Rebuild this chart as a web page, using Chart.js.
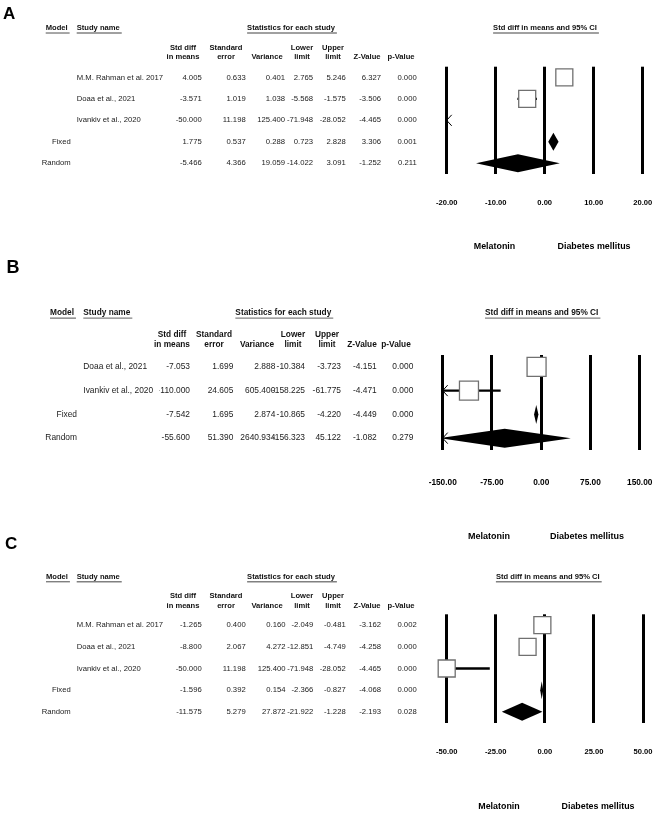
<!DOCTYPE html>
<html lang="en">
<head>
<meta charset="UTF-8">
<title>Forest plots</title>
<script src="https://cdn.jsdelivr.net/npm/chart.js"></script>
<style>
  body { margin: 0; background: #fff; }
  #page { position: relative; width: 660px; height: 813px; overflow: hidden; }
  #page canvas { position: absolute; left: 0; }
</style>
</head>
<body>
<div id="page">
  <canvas id="chartA" width="660" height="262" style="top:0px"></canvas>
  <canvas id="chartB" width="660" height="290" style="top:256px"></canvas>
  <canvas id="chartC" width="660" height="281" style="top:532px"></canvas>
</div>
<script>
// ---- data ----
const colHeaders = ['Std diff\nin means', 'Standard\nerror', 'Variance', 'Lower\nlimit', 'Upper\nlimit', 'Z-Value', 'p-Value'];
const summaryModels = ['Fixed', 'Random'];
const sideLabels = ['Melatonin', 'Diabetes mellitus'];

// panel A
const studiesA = ['M.M. Rahman et al. 2017', 'Doaa et al., 2021', 'Ivankiv et al., 2020'];
const stdDiffA = [4.005, -3.571, -50.000, 1.775, -5.466];
const stdErrA = [0.633, 1.019, 11.198, 0.537, 4.366];
const varianceA = [0.401, 1.038, 125.400, 0.288, 19.059];
const lowerA = [2.765, -5.568, -71.948, 0.723, -14.022];
const upperA = [5.246, -1.575, -28.052, 2.828, 3.091];
const zValueA = [6.327, -3.506, -4.465, 3.306, -1.252];
const pValueA = [0.000, 0.000, 0.000, 0.001, 0.211];
const axisA = [-20, 20, 10];

// panel B
const studiesB = ['Doaa et al., 2021', 'Ivankiv et al., 2020'];
const stdDiffB = [-7.053, -110.000, -7.542, -55.600];
const stdErrB = [1.699, 24.605, 1.695, 51.390];
const varianceB = [2.888, 605.400, 2.874, 2640.934];
const lowerB = [-10.384, -158.225, -10.865, -156.323];
const upperB = [-3.723, -61.775, -4.220, 45.122];
const zValueB = [-4.151, -4.471, -4.449, -1.082];
const pValueB = [0.000, 0.000, 0.000, 0.279];
const axisB = [-150, 150, 75];

// panel C
const studiesC = ['M.M. Rahman et al. 2017', 'Doaa et al., 2021', 'Ivankiv et al., 2020'];
const stdDiffC = [-1.265, -8.800, -50.000, -1.596, -11.575];
const stdErrC = [0.400, 2.067, 11.198, 0.392, 5.279];
const varianceC = [0.160, 4.272, 125.400, 0.154, 27.872];
const lowerC = [-2.049, -12.851, -71.948, -2.366, -21.922];
const upperC = [-0.481, -4.749, -28.052, -0.827, -1.228];
const zValueC = [-3.162, -4.258, -4.465, -4.068, -2.193];
const pValueC = [0.002, 0.000, 0.000, 0.000, 0.028];
const axisC = [-50, 50, 25];

// ---- layout (page coordinates) ----
const panels = {
  chartA: {
    letter: 'A', top: 0, height: 262, letterX: 3, letterY: 14.5, letterSize: 17,
    area: { left: 446.7, right: 642.7, top: 66.7, bottom: 174 },
    headY: 28.3, colHeadY: [48, 57.3],
    modelX: 45.7, modelRight: 70.7, nameX: 76.7, statsX: 291,
    colRight: [201.7, 245.7, 285, 313, 345.7, 381, 416.7],
    colCenter: [183, 226, 267, 302, 333, 367, 401],
    bodySize: 7.7, headSize: 7.6, tickSize: 7.6, tickY: 203,
    ciTitleX: 545, footY: 247, footX: [494.5, 594], footSize: 8.9,
    boxSide: 17, diamondH: 9,
    studies: studiesA, cols: [stdDiffA, stdErrA, varianceA, lowerA, upperA, zValueA, pValueA],
    est: stdDiffA, lower: lowerA, upper: upperA, axis: axisA
  },
  chartB: {
    letter: 'B', top: 256, height: 290, letterX: 6.5, letterY: 268.2, letterSize: 18,
    area: { left: 442.7, right: 639.7, top: 355, bottom: 450 },
    headY: 313, colHeadY: [335, 345],
    modelX: 50, modelRight: 77, nameX: 83.3, statsX: 283.3,
    colRight: [190, 233.3, 275.3, 305, 341, 376.7, 413.3],
    colCenter: [172, 214, 257, 293, 327, 362, 396],
    bodySize: 8.4, headSize: 8.3, tickSize: 8.3, tickY: 483,
    ciTitleX: 541.7, footY: 536.7, footX: [489, 587], footSize: 9,
    boxSide: 19, diamondH: 9.5,
    studies: studiesB, cols: [stdDiffB, stdErrB, varianceB, lowerB, upperB, zValueB, pValueB],
    est: stdDiffB, lower: lowerB, upper: upperB, axis: axisB
  },
  chartC: {
    letter: 'C', top: 532, height: 281, letterX: 5, letterY: 544.5, letterSize: 17,
    area: { left: 446.7, right: 643, top: 614.3, bottom: 722.7 },
    headY: 577, colHeadY: [595.7, 605.7],
    modelX: 46, modelRight: 70.7, nameX: 76.7, statsX: 291,
    colRight: [201.7, 245.7, 285.5, 313.3, 345.7, 381, 416.7],
    colCenter: [183, 226, 267, 302, 333, 367, 401],
    bodySize: 7.7, headSize: 7.6, tickSize: 7.6, tickY: 752,
    ciTitleX: 547.8, footY: 806.7, footX: [499, 598], footSize: 8.9,
    boxSide: 17, diamondH: 9,
    studies: studiesC, cols: [stdDiffC, stdErrC, varianceC, lowerC, upperC, zValueC, pValueC],
    est: stdDiffC, lower: lowerC, upper: upperC, axis: axisC
  }
};

const FONT = '"Liberation Sans", Arial, Helvetica, sans-serif';

function text(ctx, s, x, y, size, bold, align, color) {
  ctx.font = (bold ? 'bold ' : '') + size + 'px ' + FONT;
  ctx.textAlign = align;
  ctx.textBaseline = 'middle';
  ctx.fillStyle = color || '#000';
  ctx.fillText(s, x, y);
  return ctx.measureText(s).width;
}

function underlined(ctx, s, x, y, size, align) {
  const w = text(ctx, s, x, y, size, true, align, '#111');
  let x0 = x;
  if (align === 'center') x0 = x - w / 2;
  if (align === 'right') x0 = x - w;
  ctx.strokeStyle = '#808080';
  ctx.lineWidth = 1.4;
  ctx.beginPath();
  ctx.moveTo(x0, y + size * 0.62);
  ctx.lineTo(x0 + w + 2, y + size * 0.62);
  ctx.stroke();
}

function arrow(ctx, x, y, dir) {
  ctx.strokeStyle = '#000';
  ctx.lineWidth = 1;
  ctx.beginPath();
  ctx.moveTo(x - dir * 5, y - 5.5);
  ctx.lineTo(x, y);
  ctx.lineTo(x - dir * 5, y + 5.5);
  ctx.stroke();
}

function drawArrows(chart, p, fromRow, toRow) {
  const ctx = chart.ctx, ys = chart.scales.y, a = chart.chartArea;
  for (let i = fromRow; i < toRow; i++) {
    const y = ys.getPixelForValue(i);
    if (p.lower[i] < p.axis[0]) arrow(ctx, a.left, y, -1);
    if (p.upper[i] > p.axis[1]) arrow(ctx, a.right, y, 1);
  }
}

const forestPlugin = {
  id: 'forestTable',
  beforeDatasetsDraw(chart) {
    const p = panels[chart.canvas.id];
    drawArrows(chart, p, 0, p.studies.length);
  },
  afterDatasetsDraw(chart) {
    const p = panels[chart.canvas.id];
    const ctx = chart.ctx, xs = chart.scales.x, ys = chart.scales.y, a = chart.chartArea;
    ctx.save();
    ctx.beginPath();
    ctx.rect(a.left, a.top - 20, a.right - a.left, a.bottom - a.top + 40);
    ctx.clip();
    ctx.fillStyle = '#000';
    for (let i = p.studies.length; i < p.est.length; i++) {
      const y = ys.getPixelForValue(i);
      ctx.beginPath();
      ctx.moveTo(xs.getPixelForValue(p.lower[i]), y);
      ctx.lineTo(xs.getPixelForValue(p.est[i]), y - p.diamondH);
      ctx.lineTo(xs.getPixelForValue(p.upper[i]), y);
      ctx.lineTo(xs.getPixelForValue(p.est[i]), y + p.diamondH);
      ctx.closePath();
      ctx.fill();
    }
    ctx.restore();
    drawArrows(chart, p, p.studies.length, p.est.length);
  },
  afterDraw(chart) {
    const p = panels[chart.canvas.id];
    const ctx = chart.ctx, ys = chart.scales.y;
    const t = p.top;
    ctx.save();
    text(ctx, p.letter, p.letterX, p.letterY - t, p.letterSize, true, 'left', '#000');

    underlined(ctx, 'Model', p.modelX, p.headY - t, p.headSize, 'left');
    underlined(ctx, 'Study name', p.nameX, p.headY - t, p.headSize, 'left');
    underlined(ctx, 'Statistics for each study', p.statsX, p.headY - t, p.headSize, 'center');
    underlined(ctx, 'Std diff in means and 95% CI', p.ciTitleX, p.headY - t, p.headSize, 'center');

    colHeaders.forEach((h, c) => {
      const lines = h.split('\n');
      const ys0 = lines.length === 2 ? p.colHeadY : [p.colHeadY[1]];
      lines.forEach((ln, k) => text(ctx, ln, p.colCenter[c], ys0[k] - t, p.headSize, true, 'center', '#111'));
    });

    const nStudies = p.studies.length;
    for (let i = 0; i < p.est.length; i++) {
      const y = ys.getPixelForValue(i);
      if (i < nStudies) {
        text(ctx, p.studies[i], p.nameX, y, p.bodySize, false, 'left', '#222');
      } else {
        text(ctx, summaryModels[i - nStudies], p.modelRight, y, p.bodySize, false, 'right', '#222');
      }
      p.cols.forEach((col, c) => {
        ctx.save();
        if (c === 0) {
          // first column is a fixed-width cell, like the source software
          ctx.beginPath();
          ctx.rect(p.colRight[0] - 30.5, y - 8, 32.5, 16);
          ctx.clip();
        }
        text(ctx, col[i].toFixed(3), p.colRight[c], y, p.bodySize, false, 'right', '#222');
        ctx.restore();
      });
    }

    text(ctx, sideLabels[0], p.footX[0], p.footY - t, p.footSize, true, 'center', '#000');
    text(ctx, sideLabels[1], p.footX[1], p.footY - t, p.footSize, true, 'center', '#000');
    ctx.restore();
  }
};

function makeChart(id) {
  const p = panels[id];
  const boxes = [];
  for (let i = 0; i < p.studies.length; i++) {
    if (p.est[i] >= p.axis[0] && p.est[i] <= p.axis[1]) boxes.push({ x: p.est[i], y: i });
  }
  const datasets = [{
    data: boxes,
    showLine: false,
    pointStyle: 'rect',
    pointRadius: p.boxSide / Math.SQRT2,
    pointBackgroundColor: '#fff',
    pointBorderColor: '#707070',
    pointBorderWidth: 1.3,
    clip: false
  }];
  for (let i = 0; i < p.studies.length; i++) {
    datasets.push({
      data: [{ x: p.lower[i], y: i }, { x: p.upper[i], y: i }],
      showLine: true,
      borderColor: '#000',
      borderWidth: 2.4,
      pointRadius: 0
    });
  }
  const n = p.est.length;
  // invisible tick marks push the labels down to the reference position
  const lineH = p.tickSize * 1.2;
  const tickLen = p.tickY - p.area.bottom - lineH / 2;
  return new Chart(document.getElementById(id), {
    type: 'scatter',
    data: { datasets: datasets },
    options: {
      responsive: false,
      animation: false,
      devicePixelRatio: 1,
      layout: {
        padding: {
          left: p.area.left,
          right: 660 - p.area.right,
          top: p.area.top - p.top,
          bottom: p.top + p.height - p.area.bottom - tickLen - lineH
        }
      },
      plugins: { legend: { display: false }, tooltip: { enabled: false } },
      scales: {
        x: {
          type: 'linear',
          min: p.axis[0],
          max: p.axis[1],
          grid: { color: '#000', lineWidth: 3, drawTicks: true, tickLength: tickLen, tickColor: 'rgba(0,0,0,0)' },
          border: { display: false },
          ticks: {
            stepSize: p.axis[2],
            padding: 0,
            color: '#000',
            font: { family: FONT, size: p.tickSize, weight: 'bold' },
            maxRotation: 0,
            autoSkip: false,
            callback: v => Number(v).toFixed(2)
          }
        },
        y: {
          type: 'linear',
          display: false,
          reverse: true,
          min: -0.5,
          max: n - 0.5
        }
      }
    },
    plugins: [forestPlugin]
  });
}

makeChart('chartA');
makeChart('chartB');
makeChart('chartC');
</script>
</body>
</html>
